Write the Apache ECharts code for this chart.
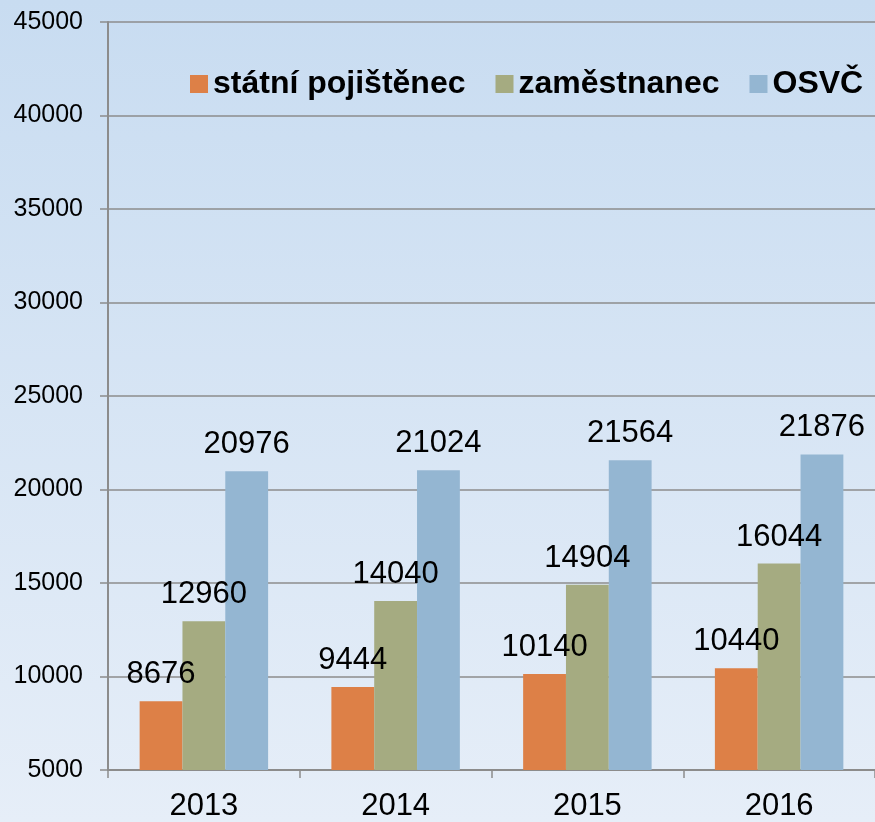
<!DOCTYPE html>
<html>
<head>
<meta charset="utf-8">
<script src="https://cdn.jsdelivr.net/npm/echarts@6/dist/echarts.min.js"></script>
<style>
  html, body { margin: 0; padding: 0; }
  #chart { width: 875px; height: 822px; }
</style>
</head>
<body>
<div id="chart"></div>
<script>
var years = ["2013", "2014", "2015", "2016"];
var seriesNames = ["státní pojištěnec", "zaměstnanec", "OSVČ"];
var statni = [8676, 9444, 10140, 10440];
var zamestnanec = [12960, 14040, 14904, 16044];
var osvc = [20976, 21024, 21564, 21876];
var colors = ["#DD8047", "#A5AB81", "#94B6D2"];

var myChart = echarts.init(document.getElementById("chart"));

function barSeries(name, values, color) {
  return {
    name: name,
    type: "bar",
    data: values,
    barGap: "0%",
    barCategoryGap: "33%",
    itemStyle: { color: color },
    label: {
      show: true,
      position: "top",
      distance: 11,
      color: "#000",
      fontSize: 31,
      fontFamily: "Liberation Sans, Arial"
    }
  };
}

var option = {
  backgroundColor: {
    type: "linear", x: 0, y: 0, x2: 0, y2: 1,
    colorStops: [
      { offset: 0, color: "#c8dcf1" },
      { offset: 1, color: "#e6eef8" }
    ]
  },
  color: colors,
  animation: false,
  legend: {
    data: seriesNames,
    top: 63,
    left: 185,
    icon: "rect",
    itemWidth: 18,
    itemHeight: 18,
    itemGap: 30,
    textStyle: {
      color: "#000",
      fontSize: 32,
      fontWeight: "bold",
      fontFamily: "Liberation Sans, Arial"
    }
  },
  grid: { left: 108, right: -4, top: 22, bottom: 52, containLabel: false },
  xAxis: {
    type: "category",
    data: years,
    axisLine: { lineStyle: { color: "#8c8c8c", width: 2 } },
    axisTick: { show: true, length: 8, lineStyle: { color: "#8c8c8c", width: 1.5 } },
    axisLabel: { color: "#000", fontSize: 31, fontFamily: "Liberation Sans, Arial", margin: 21 }
  },
  yAxis: {
    type: "value",
    min: 5000,
    max: 45000,
    interval: 5000,
    axisLine: { show: true, lineStyle: { color: "#8c8c8c", width: 2 } },
    axisTick: { show: true, length: 8, lineStyle: { color: "#8c8c8c", width: 1.5 } },
    splitLine: { lineStyle: { color: "#8c8c8c", width: 1.5 } },
    axisLabel: {
      color: "#000",
      fontSize: 25,
      fontFamily: "Liberation Sans, Arial",
      margin: 25,
      formatter: function (v) { return String(v); }
    }
  },
  series: [
    barSeries(seriesNames[0], statni, colors[0]),
    barSeries(seriesNames[1], zamestnanec, colors[1]),
    barSeries(seriesNames[2], osvc, colors[2])
  ]
};

myChart.setOption(option);
</script>
</body>
</html>
